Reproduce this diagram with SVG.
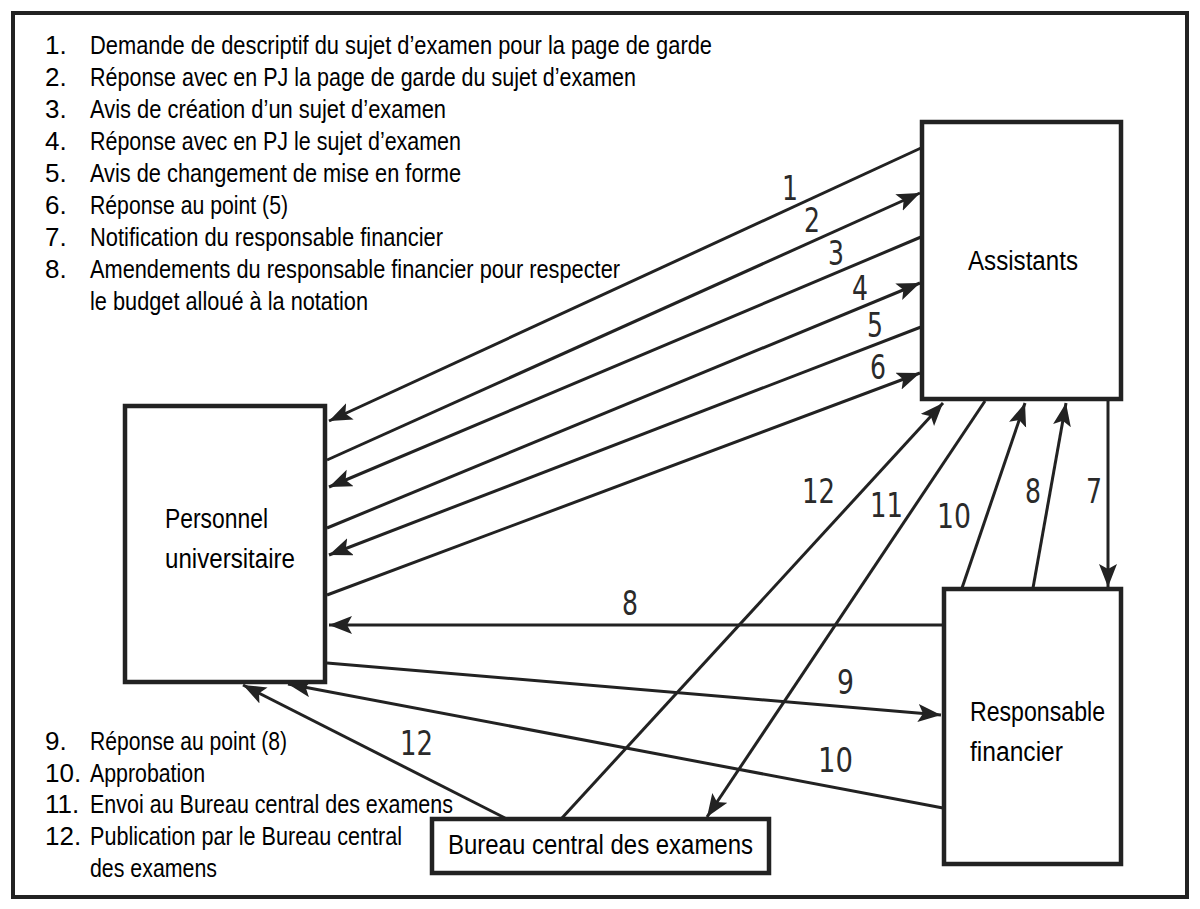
<svg xmlns="http://www.w3.org/2000/svg" width="1200" height="909" viewBox="0 0 1200 909">
<style>
.box{fill:#fff;stroke:#222;stroke-width:4.5}
.frame{fill:#fff;stroke:#222;stroke-width:4}
.ln{fill:none;stroke:#222;stroke-width:3}
.lst{font-family:"Liberation Sans",Arial,sans-serif;font-size:26px;fill:#000}
.nt{font-family:"Liberation Sans",Arial,sans-serif;font-size:27px;fill:#000}
.num{font-family:"DejaVu Sans",sans-serif;font-size:33px;fill:#2a2a2a}
</style>
<defs>
<marker id="ah" markerUnits="userSpaceOnUse" markerWidth="26" markerHeight="20" refX="23" refY="9" orient="auto">
<path d="M0,0 L23,9 L0,18 L5,9 z" fill="#222"/>
</marker>
</defs>
<rect class="frame" x="13" y="13" width="1174" height="884"/>

<g id="legend-top">
<text class="lst" x="45" y="54">1.</text><text class="lst" x="90" y="54" textLength="622" lengthAdjust="spacingAndGlyphs">Demande de descriptif du sujet d’examen pour la page de garde</text>
<text class="lst" x="45" y="86">2.</text><text class="lst" x="90" y="86" textLength="546" lengthAdjust="spacingAndGlyphs">Réponse avec en PJ la page de garde du sujet d’examen</text>
<text class="lst" x="45" y="118">3.</text><text class="lst" x="90" y="118" textLength="356" lengthAdjust="spacingAndGlyphs">Avis de création d’un sujet d’examen</text>
<text class="lst" x="45" y="150">4.</text><text class="lst" x="90" y="150" textLength="371" lengthAdjust="spacingAndGlyphs">Réponse avec en PJ le sujet d’examen</text>
<text class="lst" x="45" y="182">5.</text><text class="lst" x="90" y="182" textLength="371" lengthAdjust="spacingAndGlyphs">Avis de changement de mise en forme</text>
<text class="lst" x="45" y="214">6.</text><text class="lst" x="90" y="214" textLength="198" lengthAdjust="spacingAndGlyphs">Réponse au point (5)</text>
<text class="lst" x="45" y="246">7.</text><text class="lst" x="90" y="246" textLength="353" lengthAdjust="spacingAndGlyphs">Notification du responsable financier</text>
<text class="lst" x="45" y="278">8.</text><text class="lst" x="90" y="278" textLength="530" lengthAdjust="spacingAndGlyphs">Amendements du responsable financier pour respecter</text>
<text class="lst" x="90" y="310" textLength="278" lengthAdjust="spacingAndGlyphs">le budget alloué à la notation</text>
</g>

<g id="legend-bottom">
<text class="lst" x="45" y="750">9.</text><text class="lst" x="90" y="750" textLength="197" lengthAdjust="spacingAndGlyphs">Réponse au point (8)</text>
<text class="lst" x="45" y="782">10.</text><text class="lst" x="90" y="782" textLength="115" lengthAdjust="spacingAndGlyphs">Approbation</text>
<text class="lst" x="45" y="813">11.</text><text class="lst" x="90" y="813" textLength="363" lengthAdjust="spacingAndGlyphs">Envoi au Bureau central des examens</text>
<text class="lst" x="45" y="845">12.</text><text class="lst" x="90" y="845" textLength="312" lengthAdjust="spacingAndGlyphs">Publication par le Bureau central</text>
<text class="lst" x="90" y="877" textLength="127" lengthAdjust="spacingAndGlyphs">des examens</text>
</g>

<g id="connectors">
<line class="ln" x1="921" y1="148" x2="329" y2="421" marker-end="url(#ah)"/>
<line class="ln" x1="327" y1="460" x2="920" y2="193" marker-end="url(#ah)"/>
<line class="ln" x1="921" y1="237" x2="329" y2="487" marker-end="url(#ah)"/>
<line class="ln" x1="327" y1="528" x2="920" y2="283" marker-end="url(#ah)"/>
<line class="ln" x1="921" y1="327" x2="329" y2="555" marker-end="url(#ah)"/>
<line class="ln" x1="327" y1="595" x2="920" y2="373" marker-end="url(#ah)"/>
<line class="ln" x1="1108" y1="401" x2="1108" y2="587" marker-end="url(#ah)"/>
<line class="ln" x1="1033" y1="588" x2="1066" y2="403" marker-end="url(#ah)"/>
<line class="ln" x1="962" y1="588" x2="1025" y2="403" marker-end="url(#ah)"/>
<line class="ln" x1="985" y1="401" x2="707" y2="817" marker-end="url(#ah)"/>
<line class="ln" x1="562" y1="818" x2="943" y2="403" marker-end="url(#ah)"/>
<line class="ln" x1="943" y1="625" x2="329" y2="625" marker-end="url(#ah)"/>
<line class="ln" x1="327" y1="663" x2="941" y2="715" marker-end="url(#ah)"/>
<line class="ln" x1="943" y1="808" x2="288" y2="684" marker-end="url(#ah)"/>
<line class="ln" x1="505" y1="818" x2="243" y2="685" marker-end="url(#ah)"/>
</g>

<g id="connector-labels">
<text class="num" x="782" y="200" textLength="16" lengthAdjust="spacingAndGlyphs">1</text>
<text class="num" x="804" y="232" textLength="16" lengthAdjust="spacingAndGlyphs">2</text>
<text class="num" x="828" y="265" textLength="16" lengthAdjust="spacingAndGlyphs">3</text>
<text class="num" x="852" y="300" textLength="16" lengthAdjust="spacingAndGlyphs">4</text>
<text class="num" x="867" y="337" textLength="16" lengthAdjust="spacingAndGlyphs">5</text>
<text class="num" x="870" y="379" textLength="16" lengthAdjust="spacingAndGlyphs">6</text>
<text class="num" x="802" y="503" textLength="33" lengthAdjust="spacingAndGlyphs">12</text>
<text class="num" x="870" y="517" textLength="33" lengthAdjust="spacingAndGlyphs">11</text>
<text class="num" x="937" y="528" textLength="34" lengthAdjust="spacingAndGlyphs">10</text>
<text class="num" x="1025" y="503" textLength="16" lengthAdjust="spacingAndGlyphs">8</text>
<text class="num" x="1086" y="503" textLength="16" lengthAdjust="spacingAndGlyphs">7</text>
<text class="num" x="622" y="615" textLength="16" lengthAdjust="spacingAndGlyphs">8</text>
<text class="num" x="837" y="694" textLength="17" lengthAdjust="spacingAndGlyphs">9</text>
<text class="num" x="818" y="772" textLength="35" lengthAdjust="spacingAndGlyphs">10</text>
<text class="num" x="400" y="755" textLength="33" lengthAdjust="spacingAndGlyphs">12</text>
</g>

<g id="assistants">
<rect class="box" x="922" y="122" width="199" height="277"/>
<text class="nt" x="968" y="270" textLength="110" lengthAdjust="spacingAndGlyphs">Assistants</text>
</g>
<g id="personnel">
<rect class="box" x="125" y="406" width="200" height="276"/>
<text class="nt" x="165" y="528" textLength="103" lengthAdjust="spacingAndGlyphs">Personnel</text>
<text class="nt" x="165" y="568" textLength="130" lengthAdjust="spacingAndGlyphs">universitaire</text>
</g>
<g id="responsable">
<rect class="box" x="944" y="589" width="177" height="275"/>
<text class="nt" x="970" y="721" textLength="135" lengthAdjust="spacingAndGlyphs">Responsable</text>
<text class="nt" x="970" y="761" textLength="93" lengthAdjust="spacingAndGlyphs">financier</text>
</g>
<g id="bureau">
<rect class="box" x="432" y="819" width="337" height="54"/>
<text class="nt" x="448" y="854" textLength="305" lengthAdjust="spacingAndGlyphs">Bureau central des examens</text>
</g>
</svg>
